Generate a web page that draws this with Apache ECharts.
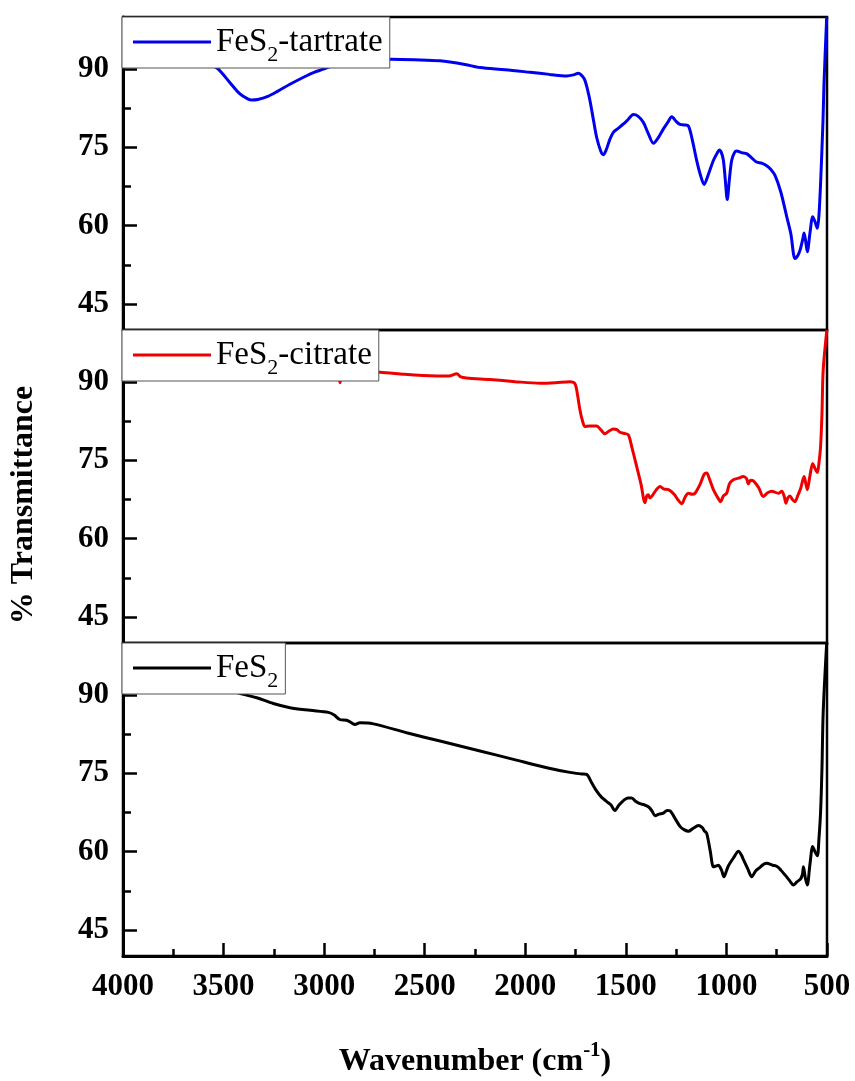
<!DOCTYPE html>
<html>
<head>
<meta charset="utf-8">
<script src="https://cdn.jsdelivr.net/npm/echarts@6/dist/echarts.min.js"></script>
<style>
  html, body { margin: 0; padding: 0; background: #ffffff; }
  #chart { width: 855px; height: 1081px; }
</style>
</head>
<body>
<div id="chart"></div>
<script>
// FT-IR spectra: wavenumber (cm-1) and % transmittance for each sample
const seriesNames = ['FeS2-tartrate', 'FeS2-citrate', 'FeS2'];
const seriesColors = ['#0000ee', '#ee0000', '#000000'];

const tartrateWn = [4000, 3800, 3650, 3560, 3526, 3470, 3420, 3380, 3360, 3330, 3280, 3230, 3170, 3100, 3050, 3004, 2950, 2850, 2750, 2664, 2550, 2424, 2300, 2225, 2100, 1976, 1880, 1794, 1760, 1736, 1715, 1703, 1690, 1678, 1660, 1645, 1625, 1612, 1598, 1580, 1562, 1540, 1512, 1490, 1463, 1440, 1413, 1390, 1363, 1340, 1314, 1290, 1272, 1250, 1231, 1210, 1189, 1170, 1148, 1130, 1111, 1090, 1065, 1045, 1035, 1025, 1015, 1005, 996, 985, 974, 960, 949, 925, 900, 875, 850, 825, 800, 780, 758, 730, 700, 680, 659, 645, 634, 620, 614, 606, 598, 585, 571, 560, 548, 540, 532, 520, 515, 502, 500];
const tartrateT = [94.5, 93.5, 92.0, 90.8, 90.0, 87.5, 85.3, 84.3, 84.1, 84.2, 84.8, 85.8, 87.1, 88.5, 89.4, 90.0, 90.8, 91.5, 91.8, 91.9, 91.8, 91.6, 90.9, 90.3, 89.9, 89.4, 89.0, 88.7, 88.9, 89.2, 88.6, 87.8, 86.0, 83.9, 80.0, 76.9, 74.3, 73.6, 74.5, 76.5, 77.9, 78.6, 79.5, 80.3, 81.3, 81.0, 79.8, 77.8, 75.8, 76.8, 78.5, 79.9, 80.9, 80.0, 79.4, 79.3, 79.1, 76.5, 72.5, 69.8, 67.9, 69.8, 72.5, 74.0, 74.5, 74.0, 72.5, 68.5, 65.0, 69.0, 72.5, 74.0, 74.3, 74.0, 73.8, 73.0, 72.2, 72.0, 71.5, 70.8, 69.6, 66.5, 61.7, 58.5, 53.7, 54.3, 55.3, 57.5, 58.6, 57.0, 55.0, 58.5, 61.7, 60.8, 59.5, 62.0, 68.0, 80.0, 87.1, 99.5, 100.0];

const citrateWn = [4000, 3500, 3000, 2935, 2921, 2910, 2722, 2600, 2507, 2380, 2341, 2320, 2292, 2175, 2050, 1927, 1850, 1778, 1753, 1740, 1728, 1715, 1703, 1680, 1645, 1625, 1604, 1585, 1562, 1545, 1529, 1510, 1488, 1470, 1446, 1425, 1405, 1396, 1388, 1380, 1371, 1350, 1330, 1310, 1288, 1260, 1240, 1222, 1205, 1189, 1170, 1156, 1130, 1110, 1098, 1085, 1065, 1045, 1029, 1015, 999, 985, 966, 940, 916, 900, 891, 880, 866, 840, 817, 795, 775, 742, 725, 712, 704, 695, 684, 672, 659, 645, 631, 614, 605, 598, 585, 571, 560, 548, 540, 532, 525, 519, 502, 500];
const citrateT = [93.0, 92.5, 92.2, 92.0, 89.9, 92.0, 91.9, 91.5, 91.3, 91.2, 91.6, 91.0, 90.8, 90.5, 90.1, 89.8, 89.9, 90.1, 89.7, 87.5, 84.6, 82.5, 81.5, 81.6, 81.6, 80.9, 80.1, 80.6, 81.0, 80.9, 80.4, 80.2, 79.9, 77.5, 73.8, 70.5, 66.9, 68.2, 68.4, 67.8, 68.1, 69.3, 70.0, 69.5, 69.4, 68.5, 67.4, 66.7, 68.0, 68.7, 68.5, 68.7, 70.5, 72.4, 72.6, 71.5, 69.4, 68.0, 67.1, 68.2, 68.7, 70.5, 71.3, 71.6, 71.9, 71.5, 70.5, 71.2, 71.1, 69.8, 68.1, 68.8, 69.1, 68.7, 69.1, 68.0, 66.8, 67.8, 68.2, 67.5, 67.1, 68.3, 69.6, 71.9, 70.5, 69.4, 72.0, 74.4, 73.5, 72.7, 74.5, 77.6, 84.0, 92.3, 99.6, 100.0];

const pyriteWn = [4000, 3800, 3600, 3500, 3440, 3385, 3335, 3253, 3170, 3070, 2979, 2950, 2921, 2888, 2860, 2847, 2822, 2755, 2590, 2424, 2225, 2059, 1893, 1778, 1720, 1695, 1670, 1645, 1620, 1595, 1575, 1554, 1535, 1512, 1490, 1471, 1450, 1430, 1410, 1388, 1370, 1355, 1335, 1314, 1295, 1280, 1250, 1230, 1214, 1189, 1165, 1139, 1120, 1110, 1098, 1080, 1065, 1055, 1040, 1025, 1012, 1000, 990, 965, 940, 925, 916, 895, 874, 855, 833, 815, 800, 770, 750, 730, 708, 685, 667, 650, 631, 622, 617, 608, 598, 585, 571, 560, 548, 540, 532, 525, 519, 502, 500];
const pyriteT = [94.5, 93.5, 92.3, 91.3, 90.6, 90.0, 89.5, 88.4, 87.6, 87.1, 86.7, 86.2, 85.3, 85.2, 84.6, 84.4, 84.7, 84.5, 82.8, 81.2, 79.3, 77.7, 76.1, 75.2, 74.9, 74.8, 73.2, 71.6, 70.4, 69.6, 69.0, 67.9, 68.9, 69.8, 70.3, 70.3, 69.6, 69.2, 69.0, 68.6, 67.8, 66.9, 67.2, 67.4, 67.9, 67.8, 66.0, 64.8, 64.3, 63.9, 64.5, 65.0, 64.6, 64.0, 63.5, 60.0, 57.1, 57.2, 57.4, 56.5, 55.2, 56.3, 57.3, 58.8, 60.1, 59.3, 58.5, 56.8, 55.2, 56.3, 57.0, 57.6, 57.8, 57.4, 57.2, 56.5, 55.5, 54.4, 53.6, 54.2, 54.8, 55.7, 57.1, 55.0, 53.6, 57.5, 61.0, 60.0, 59.2, 62.5, 67.5, 76.0, 86.6, 99.7, 100.0];

// Axis ticks
const yMajorTicks = [45, 60, 75, 90];
const yMinorTicks = [52.5, 67.5, 82.5, 97.5];

const spectra = [
  [tartrateWn, tartrateT],
  [citrateWn, citrateT],
  [pyriteWn, pyriteT]
];

const FONT = '"Liberation Serif", "Times New Roman", serif';
const panelTops = [17, 330, 643];
const panelHeight = 313;

const grids = [], xAxes = [], yAxes = [], legends = [], series = [];

panelTops.forEach((top, i) => {
  const isBottom = i === panelTops.length - 1;
  grids.push({
    left: 123, right: 28, top: top, height: panelHeight,
    outerBoundsMode: 'none',
    show: true, borderColor: '#000', borderWidth: 2.5,
    backgroundColor: 'transparent'
  });
  xAxes.push({
    gridIndex: i, type: 'value', min: 500, max: 4000, interval: 500, inverse: true,
    axisLine: { show: isBottom, onZero: false, lineStyle: { color: '#000', width: 3 } },
    axisTick: { show: isBottom, inside: true, length: 13, lineStyle: { color: '#000', width: 2.5 } },
    minorTick: { show: isBottom, splitNumber: 2, length: 7, lineStyle: { color: '#000', width: 2.5 } },
    axisLabel: {
      show: isBottom, margin: 15, color: '#000', fontFamily: FONT, fontWeight: 'bold', fontSize: 31,
      formatter: v => String(v)
    },
    splitLine: { show: false },
    name: isBottom ? 'Wavenumber (cm{sup|-1})' : '',
    nameLocation: 'middle',
    nameGap: 84,
    nameTextStyle: {
      color: '#000', fontFamily: FONT, fontWeight: 'bold', fontSize: 32, lineHeight: 44,
      rich: {
        sup: { fontFamily: FONT, fontWeight: 'bold', fontSize: 21, lineHeight: 16, verticalAlign: 'top', color: '#000' }
      }
    }
  });
  // major ticks with labels
  yAxes.push({
    gridIndex: i, type: 'value', min: 40, max: 100, position: 'left',
    axisLine: { show: true, onZero: false, lineStyle: { color: '#000', width: 3 } },
    axisTick: { show: true, inside: true, length: 14, customValues: yMajorTicks, lineStyle: { color: '#000', width: 2.5 } },
    axisLabel: { show: true, customValues: yMajorTicks, margin: 14, color: '#000', fontFamily: FONT, fontWeight: 'bold', fontSize: 31 },
    splitLine: { show: false }
  });
  // minor ticks
  yAxes.push({
    gridIndex: i, type: 'value', min: 40, max: 100, position: 'left', offset: 0,
    axisLine: { show: false },
    axisTick: { show: true, inside: true, length: 8, customValues: yMinorTicks, lineStyle: { color: '#000', width: 2.5 } },
    axisLabel: { show: false },
    splitLine: { show: false }
  });
  legends.push({
    left: 122, top: top,
    data: [{ name: seriesNames[i], icon: 'rect' }],
    selectedMode: false,
    backgroundColor: '#ffffff',
    borderColor: '#555555', borderWidth: 1, borderRadius: 0,
    padding: [1, 7, 2, 11],
    itemWidth: 78, itemHeight: 3,
    itemStyle: { color: seriesColors[i], borderWidth: 0 },
    formatter: name => name.replace('S2', 'S{sub|2}'),
    textStyle: {
      color: '#000', fontFamily: FONT, fontSize: 33, lineHeight: 48,
      rich: {
        sub: { fontFamily: FONT, fontSize: 22, lineHeight: 12, verticalAlign: 'bottom', color: '#000' }
      }
    }
  });
  const [wn, t] = spectra[i];
  series.push({
    name: seriesNames[i], type: 'line',
    xAxisIndex: i, yAxisIndex: 2 * i,
    data: wn.map((w, k) => [w, t[k]]),
    symbol: 'none', showSymbol: false,
    smooth: 0.3,
    color: seriesColors[i],
    lineStyle: { color: seriesColors[i], width: 3 },
    animation: false
  });
});

const chart = echarts.init(document.getElementById('chart'), null, { renderer: 'canvas' });
chart.setOption({
  backgroundColor: '#ffffff',
  animation: false,
  grid: grids,
  xAxis: xAxes,
  yAxis: yAxes,
  legend: legends,
  series: series,
  graphic: [{
    type: 'text',
    x: 24, y: 505,
    rotation: Math.PI / 2,
    style: {
      text: '% Transmittance',
      font: 'bold 32px "Liberation Serif", "Times New Roman", serif',
      fill: '#000',
      align: 'center', verticalAlign: 'middle'
    }
  }]
});
</script>
</body>
</html>
